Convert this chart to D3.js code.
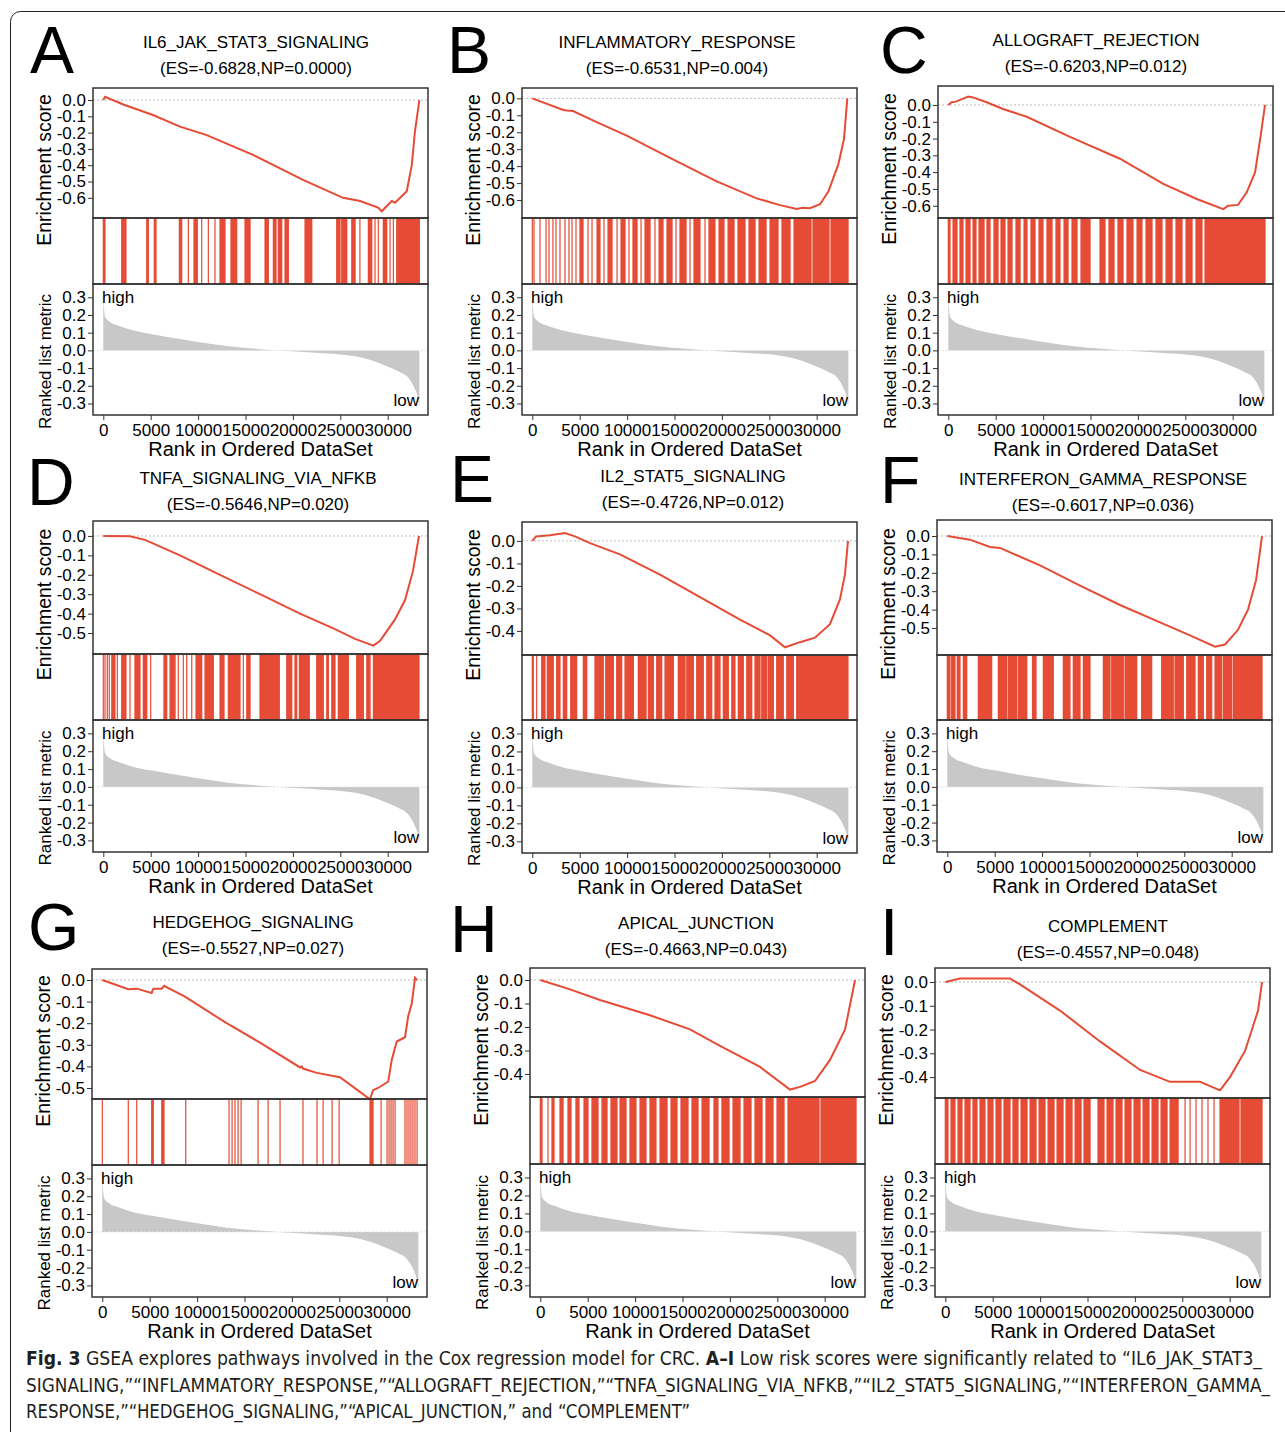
<!DOCTYPE html>
<html>
<head>
<meta charset="utf-8">
<script src="https://cdn.jsdelivr.net/npm/d3@7"></script>
<style>
  body { margin: 0; background: #fff; }
  svg text { font-family: "Liberation Sans", Arial, sans-serif; }
</style>
</head>
<body>
<div id="chart"></div>
<script>

// ---- data ----
const panelLetters = ["A", "B", "C", "D", "E", "F", "G", "H", "I"];
const geneSets = ["IL6_JAK_STAT3_SIGNALING", "INFLAMMATORY_RESPONSE", "ALLOGRAFT_REJECTION",
    "TNFA_SIGNALING_VIA_NFKB", "IL2_STAT5_SIGNALING", "INTERFERON_GAMMA_RESPONSE",
    "HEDGEHOG_SIGNALING", "APICAL_JUNCTION", "COMPLEMENT"];
const esLabels = ["-0.6828", "-0.6531", "-0.6203", "-0.5646", "-0.4726", "-0.6017", "-0.5527", "-0.4663", "-0.4557"];
const npLabels = ["0.0000", "0.004", "0.012", "0.020", "0.012", "0.036", "0.027", "0.043", "0.048"];

const esTicks6 = [0, -0.1, -0.2, -0.3, -0.4, -0.5, -0.6];
const esTicks5 = [0, -0.1, -0.2, -0.3, -0.4, -0.5];
const esTicks4 = [0, -0.1, -0.2, -0.3, -0.4];
const esTickSets = [esTicks6, esTicks6, esTicks6, esTicks5, esTicks4, esTicks5, esTicks5, esTicks4, esTicks4];
const metricTicks = [0.3, 0.2, 0.1, 0, -0.1, -0.2, -0.3];
const rankTicks = [0, 5000, 10000, 15000, 20000, 25000, 30000];

// running enrichment score, [rank, ES]
const esA = [[0,0],[180,0.02],[2110,-0.027],[5240,-0.092],[8090,-0.163],[10910,-0.215],[15790,-0.337],[21070,-0.49],
    [25290,-0.60],[27090,-0.62],[28980,-0.66],[29370,-0.6828],[30430,-0.62],[30770,-0.63],[32010,-0.56],[32540,-0.40],[32880,-0.19],[33340,0]];
const esB = [[0,0],[3270,-0.069],[3660,-0.072],[4300,-0.075],[6790,-0.14],[9960,-0.22],[14840,-0.36],[19450,-0.49],[23670,-0.59],
    [26130,-0.63],[27890,-0.6531],[28500,-0.645],[29290,-0.648],[30350,-0.625],[31230,-0.55],[32280,-0.39],[32880,-0.24],[33230,0]];
const esC = [[0,0],[350,0.016],[800,0.02],[2110,0.05],[2600,0.045],[4050,0.016],[5770,-0.024],[8270,-0.07],[12840,-0.19],
    [18110,-0.32],[22680,-0.47],[26210,-0.56],[29010,-0.6203],[29510,-0.60],[30560,-0.595],[31480,-0.52],[32360,-0.40],[32960,-0.18],[33410,0]];
const esD = [[0,0],[2820,-0.002],[4400,-0.02],[8090,-0.1],[12310,-0.2],[16530,-0.3],[20750,-0.4],[24440,-0.48],[26550,-0.53],
    [28490,-0.5646],[29200,-0.54],[30770,-0.43],[31830,-0.33],[32670,-0.18],[33300,0]];
const esE = [[0,0],[390,0.02],[1870,0.025],[3450,0.035],[4500,0.02],[6090,-0.01],[9250,-0.06],[13470,-0.15],[17690,-0.25],
    [21910,-0.35],[25080,-0.42],[26660,-0.4726],[28240,-0.45],[29820,-0.43],[31400,-0.37],[32450,-0.26],[32980,-0.15],[33300,0]];
const esF = [[0,0],[2390,-0.02],[4500,-0.06],[5560,-0.065],[9780,-0.16],[14000,-0.27],[18220,-0.375],[22440,-0.47],[25600,-0.54],
    [28240,-0.6017],[29300,-0.59],[30670,-0.51],[31720,-0.4],[32570,-0.24],[33200,0]];
const esG = [[0,0],[2740,-0.043],[3630,-0.04],[5210,-0.06],[5380,-0.04],[6270,-0.04],[6510,-0.027],[8720,-0.077],[13120,-0.20],
    [16640,-0.29],[20860,-0.405],[21040,-0.40],[21170,-0.41],[22620,-0.43],[25070,-0.45],[28240,-0.5527],[28560,-0.51],[29090,-0.50],
    [30170,-0.47],[30530,-0.37],[31060,-0.285],[31930,-0.265],[32280,-0.165],[32640,-0.11],[32990,0.01],[33200,0]];
const esH = [[0,0],[3130,-0.04],[6300,-0.085],[11570,-0.15],[15790,-0.21],[18960,-0.28],[23180,-0.37],[26340,-0.4663],
    [27400,-0.455],[28980,-0.43],[30560,-0.34],[32150,-0.21],[33200,0]];
const esI = [[0,0],[1550,0.015],[6820,0.015],[7880,-0.01],[12100,-0.12],[16320,-0.25],[20550,-0.37],[23710,-0.42],[26870,-0.42],
    [28980,-0.4557],[30030,-0.4],[31620,-0.29],[32990,-0.12],[33410,0]];
const esCurves = [esA, esB, esC, esD, esE, esF, esG, esH, esI];

// gene-set hits, [first rank, last rank] of each stripe
const hitsA = [[0,180],[1940,2390],[4580,4750],[5380,5560],[8020,8270],[8970,8970],[9570,9920],[10380,10380],[11080,11080],
    [11780,11780],[12310,12840],[13470,14070],[14950,15480],[17060,17410],[17940,18220],[18460,18820],[19170,19520],[21280,21990],
    [24620,24970],[25150,25680],[26210,26560],[27070,27070],[27960,28320],[28660,28660],[29010,29010],[29540,29900],[30250,30250],
    [30600,30600],[30950,33340]];
const hitsB = [[0,0],[180,180],[810,810],[1450,1450],[1760,1760],[2180,2180],[2500,2500],[2920,2920],[3450,3450],[3870,3870],
    [4190,4190],[4610,4610],[5030,5350],[5880,5880],[6300,6300],[6830,7140],[7560,7560],[7990,8410],[8940,8940],[9360,9780],
    [10200,10200],[10620,11050],[11470,11470],[11890,12420],[12940,12940],[13370,13790],[14210,14740],[15160,15160],[15580,16220],
    [16640,16640],[17060,17690],[18220,18220],[18640,19270],[19700,20220],[20650,21280],[21700,22440],[22860,23500],[23920,24660],
    [25080,25920],[26340,27190],[27610,29400],[29610,31300],[31510,33310]];
const hitsC = [[0,180],[500,920],[1230,1550],[1870,2290],[2610,2920],[3240,3770],[4080,4400],[4820,5250],[5560,5980],[6300,6720],
    [7140,7570],[7990,8300],[8720,9150],[9570,9990],[10410,10940],[11360,11780],[12210,12630],[13050,13580],[14000,14950],
    [16000,16530],[16950,17480],[17900,18430],[18850,19480],[19910,20430],[20860,21490],[21910,22540],[22970,23600],[24020,24650],
    [25080,25710],[26130,26760],[27080,33410]];
const hitsD = [[0,0],[180,180],[420,420],[630,630],[890,1230],[1480,1480],[1940,2390],[2820,2820],[3340,3870],[4220,4580],
    [5000,5000],[6400,6690],[7040,7570],[7910,7910],[8440,8440],[8800,8800],[9330,9330],[9780,10380],[10730,11610],[12310,12730],
    [13190,14420],[14770,14770],[15130,15480],[16530,18570],[19350,19880],[20220,20400],[20680,21730],[22510,23210],[23570,23740],
    [24100,24440],[24790,25850],[26730,27430],[27790,28140],[28490,33300]];
const hitsE = [[0,110],[460,460],[990,1340],[1580,2220],[2570,2920],[3270,3630],[4050,4680],[5380,5740],[6610,7490],[7740,8550],
    [8900,9430],[9780,10660],[11180,12000],[12240,12770],[13120,13650],[14000,14880],[15400,16110],[16290,16990],[17340,18040],
    [18400,18930],[19270,19800],[20150,20680],[21040,21380],[21730,22260],[22620,23150],[23490,24020],[24200,24730],[24900,25430],
    [25780,26480],[26840,27540],[27890,33300]];
const hitsF = [[0,280],[460,810],[1050,1340],[1690,2050],[3270,4680],[5380,6270],[6440,7320],[7490,8380],[8990,9360],[10130,11180],
    [12240,12940],[13290,14000],[14350,15050],[16460,17160],[17340,18570],[18750,19980],[20500,21560],[22610,23840],[24020,24900],
    [25250,26130],[26480,27010],[27360,27890],[28240,28940],[29120,30000],[30170,33200]];
const hitsG = [[0,0],[2740,2740],[3630,3630],[5210,5380],[6270,6510],[8800,8800],[13370,13370],[13690,13690],[14000,14000],
    [14320,14320],[14640,14640],[16430,16430],[17490,17490],[18750,18750],[21170,21170],[22650,22650],[23290,23290],[24240,24240],
    [24980,24980],[28240,28560],[29410,29410],[30040,30040],[30250,30250],[30460,30460],[30670,30670],[30880,30880],[31930,31930],
    [32140,32140],[32350,32350],[32560,32560],[32770,32770],[32980,32980],[33200,33200]];
const hitsH = [[0,180],[810,810],[1230,1450],[2080,2400],[2920,3240],[3760,4080],[4610,5030],[5450,6090],[6510,7040],[7460,8090],
    [8410,9040],[9460,10090],[10520,11150],[11570,12200],[12630,13370],[13790,14420],[14840,15580],[16000,16640],[17060,17800],
    [18320,18740],[19160,19910],[20330,21070],[21490,22230],[22650,23390],[23810,24550],[24970,25710],[26130,29400],[29610,33310]];
const hitsI = [[0,280],[600,1020],[1340,1760],[2080,2610],[2920,3340],[3660,4190],[4500,5030],[5350,5880],[6190,6830],[7140,7670],
    [7990,8620],[8940,9570],[9890,10520],[10840,11470],[11790,12420],[12740,13370],[13690,14320],[14630,15270],[16110,16740],
    [17060,17690],[18010,18640],[18960,19590],[19910,20540],[20860,21490],[21810,22440],[22760,23390],[23710,24560],[25290,25290],
    [25820,25820],[26450,26450],[27080,27080],[27710,27710],[28350,28350],[28980,30980],[31190,33410]];
const hitSets = [hitsA, hitsB, hitsC, hitsD, hitsE, hitsF, hitsG, hitsH, hitsI];

// ranked list metric (same ranked list for every panel)
const metricRank = [0, 60, 180, 600, 1760, 3000, 5280, 9500, 13000, 15800, 18500, 22000, 26400, 28500, 29900, 31200, 32000, 32500, 32880, 33150, 33340];
const metricValue = [0.30, 0.25, 0.19, 0.165, 0.137, 0.115, 0.09, 0.052, 0.025, 0.01, 0.0, -0.012, -0.032, -0.06, -0.089, -0.12, -0.145, -0.18, -0.22, -0.26, -0.315];

// ---- layout (pixels) ----
const boxLeft  = [93, 522, 938, 93, 522, 937, 92, 530, 935];
const boxW = 335;
const esTop    = [88, 88, 86, 521, 522, 520, 969, 968, 968];
const hitsTop  = [218, 218, 218, 654, 655, 655, 1099, 1097, 1098];
const metTop   = [284, 284, 284, 720, 720, 720, 1165, 1164, 1164];
const metBot   = [415, 415, 415, 852, 853, 852, 1297, 1297, 1297];
const esDomain = [[0.074,-0.724],[0.061,-0.706],[0.113,-0.673],[0.077,-0.608],[0.084,-0.507],[0.087,-0.647],[0.051,-0.551],[0.051,-0.498],[0.059,-0.488]];
const titleX   = [256, 677, 1096, 258, 693, 1103, 253, 696, 1108];
const titleY   = [48, 48, 46, 484, 482, 485, 928, 929, 932];
const letterX  = [30, 447, 880, 27, 450, 880, 28, 450, 880];
const letterY  = [73, 73, 73, 505, 502, 503, 950, 952, 955];

const red = "#e64b35";
const fmt1 = d => d.toFixed(1);

const svg = d3.select("#chart").append("svg")
    .attr("width", 1285)
    .attr("height", 1432);

// outer frame (only top/left corner visible)
svg.append("rect")
    .attr("x", 10.5).attr("y", 11.5)
    .attr("width", 1320).attr("height", 1450)
    .attr("rx", 10)
    .attr("fill", "none")
    .attr("stroke", "#222")
    .attr("stroke-width", 1);

panelLetters.forEach((letter, i) => {
    let g = svg.append("g").attr("class", "panel");
    let left = boxLeft[i], right = left + boxW;

    // scales
    let x = d3.scaleLinear().domain([0, 30000]).range([left + 10.3, left + 294.7]);
    let yEs = d3.scaleLinear().domain(esDomain[i]).range([esTop[i], hitsTop[i]]);
    let yMet = d3.scaleLinear().domain([0.375, -0.365]).range([metTop[i], metBot[i]]);

    // panel letter and title
    g.append("text")
        .attr("x", letterX[i]).attr("y", letterY[i])
        .attr("font-size", 66)
        .text(letter);
    g.append("text")
        .attr("x", titleX[i]).attr("y", titleY[i])
        .attr("text-anchor", "middle")
        .attr("font-size", 17)
        .text(geneSets[i]);
    g.append("text")
        .attr("x", titleX[i]).attr("y", titleY[i] + 26)
        .attr("text-anchor", "middle")
        .attr("font-size", 17)
        .text(`(ES=${esLabels[i]},NP=${npLabels[i]})`);

    // ES zero line + curve
    g.append("line")
        .attr("x1", left).attr("x2", right)
        .attr("y1", yEs(0)).attr("y2", yEs(0))
        .attr("stroke", "#bbb").attr("stroke-width", 1)
        .attr("stroke-dasharray", "2,2");
    g.append("path")
        .datum(esCurves[i])
        .attr("d", d3.line().x(d => x(d[0])).y(d => yEs(d[1])))
        .attr("fill", "none")
        .attr("stroke", red)
        .attr("stroke-width", 2);

    // hits
    g.selectAll(".hit")
        .data(hitSets[i])
        .enter().append("rect")
        .attr("class", "hit")
        .attr("x", d => x(d[0]) - 0.6)
        .attr("width", d => Math.max(x(d[1]) - x(d[0]) + 1.2, 1.2))
        .attr("y", hitsTop[i])
        .attr("height", metTop[i] - hitsTop[i])
        .attr("fill", red);

    // ranked list metric
    let metric = metricRank.map((r, k) => [r, metricValue[k]]);
    g.append("path")
        .datum(metric)
        .attr("d", d3.area().curve(d3.curveMonotoneX)
            .x(d => x(d[0])).y0(yMet(0)).y1(d => yMet(d[1])))
        .attr("fill", "#c8c8c8");
    g.append("line")
        .attr("x1", left).attr("x2", right)
        .attr("y1", yMet(0)).attr("y2", yMet(0))
        .attr("stroke", "#e4e4e4").attr("stroke-width", 1)
        .attr("stroke-dasharray", "2,2");

    g.append("text")
        .attr("x", left + 9).attr("y", metTop[i] + 19)
        .attr("font-size", 17)
        .text("high");
    g.append("text")
        .attr("x", right - 9).attr("y", metBot[i] - 9)
        .attr("text-anchor", "end")
        .attr("font-size", 17)
        .text("low");

    // frames
    [[esTop[i], hitsTop[i]], [hitsTop[i], metTop[i]], [metTop[i], metBot[i]]].forEach(b => {
        g.append("rect")
            .attr("x", left).attr("y", b[0])
            .attr("width", boxW).attr("height", b[1] - b[0])
            .attr("fill", "none")
            .attr("stroke", "#333")
            .attr("stroke-width", 1.5);
    });

    // axes
    let esAxis = g.append("g")
        .attr("transform", `translate(${left},0)`)
        .call(d3.axisLeft(yEs).tickValues(esTickSets[i]).tickSize(5).tickPadding(2).tickFormat(fmt1));
    let metAxis = g.append("g")
        .attr("transform", `translate(${left},0)`)
        .call(d3.axisLeft(yMet).tickValues(metricTicks).tickSize(5).tickPadding(2).tickFormat(fmt1));
    let rankAxis = g.append("g")
        .attr("transform", `translate(0,${metBot[i]})`)
        .call(d3.axisBottom(x).tickValues(rankTicks).tickSize(5).tickPadding(4).tickFormat(d3.format("d")));

    [esAxis, metAxis, rankAxis].forEach(a => {
        a.select(".domain").remove();
        a.selectAll("text")
            .attr("font-size", 17)
            .attr("font-family", "Liberation Sans, Arial, sans-serif")
            .attr("fill", "#000");
        a.selectAll("line").attr("stroke", "#333");
    });

    // axis titles
    g.append("text")
        .attr("transform", `translate(${left - 49},${(esTop[i] + metTop[i]) / 2 - 16}) rotate(-90)`)
        .attr("text-anchor", "middle")
        .attr("dy", "0.35em")
        .attr("font-size", 19.5)
        .text("Enrichment score");
    g.append("text")
        .attr("transform", `translate(${left - 48},${(metTop[i] + metBot[i]) / 2 + 12}) rotate(-90)`)
        .attr("text-anchor", "middle")
        .attr("dy", "0.35em")
        .attr("font-size", 17)
        .text("Ranked list metric");
    g.append("text")
        .attr("x", left + boxW / 2).attr("y", metBot[i] + 41)
        .attr("text-anchor", "middle")
        .attr("font-size", 20)
        .text("Rank in Ordered DataSet");
});

// caption
const captionFont = "'Liberation Sans Narrow', 'DejaVu Sans Condensed', 'Roboto Condensed', 'Liberation Sans', sans-serif";
const cap1 = svg.append("text")
    .attr("x", 26).attr("y", 1365)
    .attr("font-size", 19)
    .attr("fill", "#231f20")
    .style("font-family", captionFont)
    .attr("textLength", 1236)
    .attr("lengthAdjust", "spacingAndGlyphs");
cap1.append("tspan").attr("font-weight", "bold").text("Fig. 3");
cap1.append("tspan").text("  GSEA explores pathways involved in the Cox regression model for CRC. ");
cap1.append("tspan").attr("font-weight", "bold").text("A–I");
cap1.append("tspan").text(" Low risk scores were significantly related to “IL6_JAK_STAT3_");

svg.append("text")
    .attr("x", 26).attr("y", 1392)
    .attr("font-size", 19)
    .attr("fill", "#231f20")
    .style("font-family", captionFont)
    .attr("textLength", 1244)
    .attr("lengthAdjust", "spacingAndGlyphs")
    .text("SIGNALING,”“INFLAMMATORY_RESPONSE,”“ALLOGRAFT_REJECTION,”“TNFA_SIGNALING_VIA_NFKB,”“IL2_STAT5_SIGNALING,”“INTERFERON_GAMMA_");

svg.append("text")
    .attr("x", 26).attr("y", 1418)
    .attr("font-size", 19)
    .attr("fill", "#231f20")
    .style("font-family", captionFont)
    .attr("textLength", 664)
    .attr("lengthAdjust", "spacingAndGlyphs")
    .text("RESPONSE,”“HEDGEHOG_SIGNALING,”“APICAL_JUNCTION,” and “COMPLEMENT”");

</script>
</body>
</html>
